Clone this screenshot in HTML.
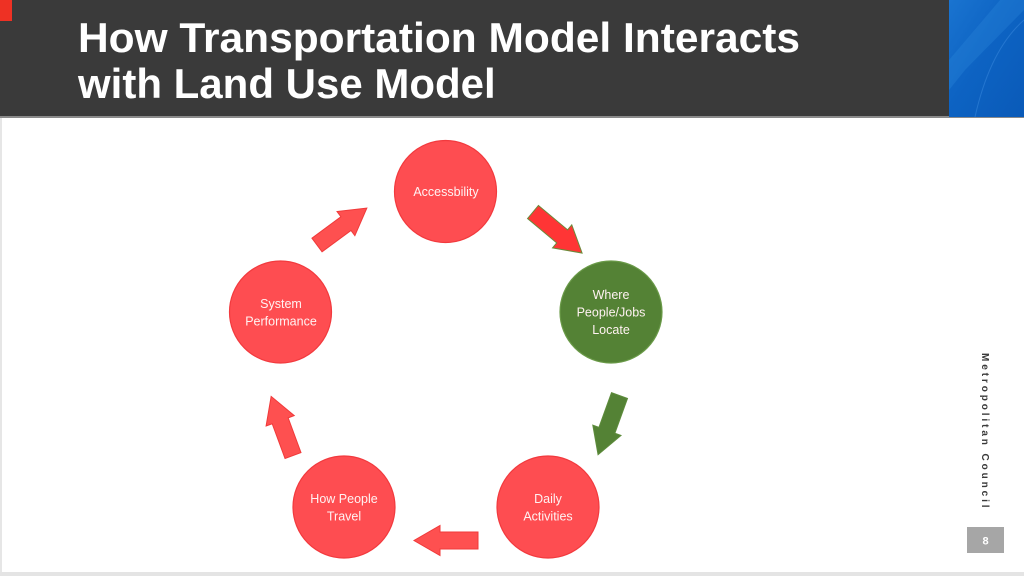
<!DOCTYPE html>
<html><head><meta charset="utf-8"><style>
html,body{margin:0;padding:0;background:#fff;}
body{width:1024px;height:576px;overflow:hidden;position:relative;}
svg{display:block;}
</style></head><body>
<svg width="1024" height="576" viewBox="0 0 1024 576" xmlns="http://www.w3.org/2000/svg">
<defs>
<linearGradient id="bl" x1="0" y1="0" x2="1" y2="1">
<stop offset="0" stop-color="#1a74d0"/>
<stop offset="0.45" stop-color="#0d63c3"/>
<stop offset="1" stop-color="#0a5ab8"/>
</linearGradient>
</defs>
<rect x="0" y="0" width="1024" height="576" fill="#ffffff"/>
<rect x="0" y="0" width="2" height="576" fill="#e6e6e6"/>
<rect x="0" y="0" width="1024" height="117" fill="#3a3a3a"/>
<rect x="0" y="116" width="1024" height="2" fill="#8a8a8a"/>
<rect x="949" y="0" width="75" height="117" fill="url(#bl)"/>
<path d="M949 60 L1000 0 L1024 0 L1024 10 L965 70 L949 90 Z" fill="#2a86da" opacity="0.35"/>
<path d="M975 117 Q990 50 1024 20" stroke="#3b8be0" stroke-width="1" fill="none" opacity="0.5"/>
<rect x="0" y="0" width="12" height="21" fill="#ee3124"/>
<rect x="0" y="572" width="1024" height="4" fill="#e4e4e4"/>

<text x="78" y="52" font-family="Liberation Sans, Arial, sans-serif" font-weight="bold" font-size="42" fill="#ffffff" textLength="722" lengthAdjust="spacingAndGlyphs">How Transportation Model Interacts</text>
<text x="78" y="98" font-family="Liberation Sans, Arial, sans-serif" font-weight="bold" font-size="42" fill="#ffffff">with Land Use Model</text>

<!-- arrows -->
<g fill="#fe5050" stroke="#f03a3a" stroke-width="1">
<polygon transform="translate(317,245) rotate(-36.5)" points="0,-8.5 36,-8.5 36,-15 62,0 36,15 36,8.5 0,8.5"/>
<polygon transform="translate(478,540.5) rotate(180)" points="0,-8.5 38,-8.5 38,-15 64,0 38,15 38,8.5 0,8.5"/>
<polygon transform="translate(293,455.5) rotate(-110.3)" points="0,-8.5 37,-8.5 37,-15 63,0 37,15 37,8.5 0,8.5"/>
</g>
<polygon transform="translate(533,212) rotate(39.9)" points="0,-8.5 38,-8.5 38,-15 64,0 38,15 38,8.5 0,8.5" fill="#ff3535" stroke="#6b8a3a" stroke-width="1"/>
<polygon transform="translate(619.5,395.5) rotate(109.9)" points="0,-8.5 37,-8.5 37,-15 63,0 37,15 37,8.5 0,8.5" fill="#548235" stroke="#5e8c3c" stroke-width="1"/>

<!-- circles -->
<g stroke="#f23a3e" stroke-width="1.2" fill="#fe4d51">
<circle cx="445.5" cy="191.5" r="51"/>
<circle cx="280.5" cy="312" r="51"/>
<circle cx="344" cy="507" r="51"/>
<circle cx="548" cy="507" r="51"/>
</g>
<circle cx="611" cy="312" r="51" fill="#548235" stroke="#6a9a48" stroke-width="1.2"/>

<g font-family="Liberation Sans, Arial, sans-serif" font-size="12.5" fill="#fff2f2" text-anchor="middle">
<text x="446" y="196">Accessbility</text>
<text x="611" y="299">Where</text>
<text x="611" y="316.5">People/Jobs</text>
<text x="611" y="334">Locate</text>
<text x="281" y="308">System</text>
<text x="281" y="325.5">Performance</text>
<text x="344" y="503">How People</text>
<text x="344" y="520.5">Travel</text>
<text x="548" y="503">Daily</text>
<text x="548" y="520.5">Activities</text>
</g>

<text transform="translate(982,353) rotate(90)" font-family="Liberation Sans, Arial, sans-serif" font-weight="bold" font-size="10" letter-spacing="2.9" fill="#3a3a3a">Metropolitan Council</text>
<rect x="967" y="527" width="37" height="26" fill="#a6a6a6"/>
<text x="985.5" y="544.5" font-family="Liberation Sans, Arial, sans-serif" font-weight="bold" font-size="11" fill="#ffffff" text-anchor="middle">8</text>
</svg>
</body></html>
